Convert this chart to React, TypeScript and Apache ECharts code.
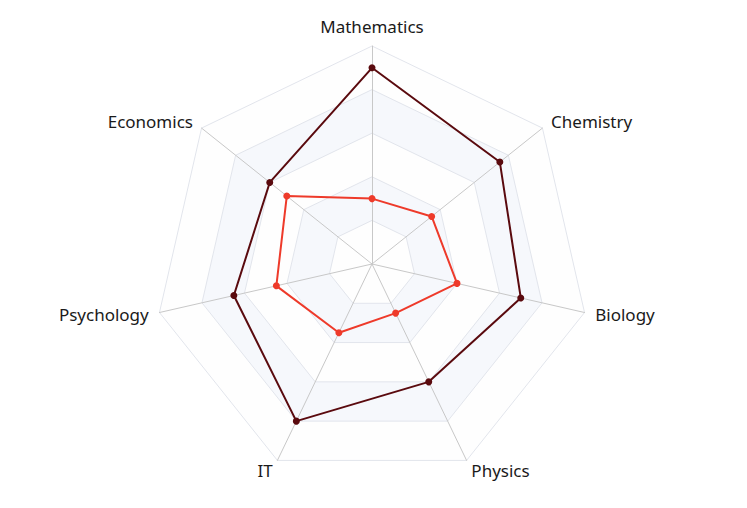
import React, { useEffect, useRef } from "react";
import * as echarts from "echarts";

// Indicators listed clockwise from top (as seen in chart)
const subjects = ["Mathematics", "Chemistry", "Biology", "Physics", "IT", "Psychology", "Economics"];
const maxValue = 100;
const seriesA = [90, 75, 70, 60, 80, 65, 60];
const seriesB = [30, 35, 40, 25, 35, 45, 50];
const seriesNames = ["Student A", "Student B"];

// ECharts places indicators counter-clockwise; reorder so they appear clockwise
const order = [0, 6, 5, 4, 3, 2, 1];

export default function App() {
  const ref = useRef<HTMLDivElement>(null);
  useEffect(() => {
    document.body.style.margin = "0";
    const chart = echarts.init(ref.current!, undefined, { renderer: "svg" });
    chart.setOption({
      animation: false,
      radar: {
        center: [372, 264],
        radius: 218,
        splitNumber: 5,
        nameGap: 11,
        indicator: order.map((i) => ({ name: subjects[i], max: maxValue })),
        axisName: { color: "#1a1a1a", fontSize: 17, fontFamily: "Noto Sans" },
        axisLine: { lineStyle: { color: "#c8c8c8" } },
        splitLine: { lineStyle: { color: "#e2e5ec" } },
        splitArea: { areaStyle: { color: ["rgba(250,250,250,0.2)", "rgba(210,219,238,0.2)"] } },
      },
      series: [
        {
          type: "radar",
          symbol: "circle",
          symbolSize: 7,
          data: [
            {
              name: seriesNames[0],
              value: order.map((i) => seriesA[i]),
              lineStyle: { color: "#5a0a0e", width: 2 },
              itemStyle: { color: "#5a0a0e" },
            },
            {
              name: seriesNames[1],
              value: order.map((i) => seriesB[i]),
              lineStyle: { color: "#ee3a2a", width: 2 },
              itemStyle: { color: "#ee3a2a" },
            },
          ],
        },
      ],
    });
    return () => chart.dispose();
  }, []);
  return <div ref={ref} style={{ width: 747, height: 508 }} />;
}
